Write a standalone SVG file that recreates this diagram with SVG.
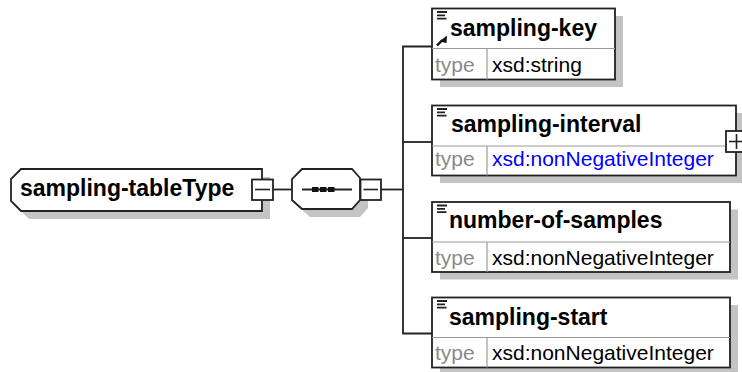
<svg xmlns="http://www.w3.org/2000/svg" width="742" height="372" viewBox="0 0 742 372">
<style>
.shadow{fill:#c4c4c4;stroke:none}
.box{fill:#fff;stroke:#222;stroke-width:1.8}
.sep{stroke:#9a9a9a;stroke-width:1.2;fill:none}
.conn{stroke:#222;stroke-width:1.8;fill:none}
.name{font-family:"Liberation Sans",Arial,sans-serif;font-weight:bold;font-size:23px;fill:#000}
.lbl{font-family:"Liberation Sans",Arial,sans-serif;font-size:21px;fill:#8a8a8a}
.typ{font-family:"Liberation Sans",Arial,sans-serif;font-size:21px;fill:#000}
.link{fill:#0000ff}
.ico{stroke:#222;stroke-width:1.8;fill:none}
.pm{fill:#fff;stroke:#222;stroke-width:1.8}
.pml{stroke:#222;stroke-width:1.6;fill:none}
</style>
<rect width="742" height="372" fill="#fff"/>
<g id="connectors">
<line class="conn" x1="273" y1="189.5" x2="292" y2="189.5"/>
<line class="conn" x1="381" y1="189.5" x2="403" y2="189.5"/>
<polyline class="conn" points="432,46.5 403,46.5 403,333.5 432,333.5"/>
<line class="conn" x1="403" y1="142" x2="432" y2="142"/>
<line class="conn" x1="403" y1="238" x2="432" y2="238"/>
</g>
<g id="node-sampling-tableType">
<polygon class="shadow" points="29,177 270,177 270,219 29,219 19,209 19,187"/>
<polygon class="box" points="21,169 262,169 262,211 21,211 11,201 11,179"/>
<text class="name" x="20" y="196">sampling-tableType</text>
<rect class="pm" x="252" y="179.5" width="21" height="20.5"/>
<line class="pml" x1="255" y1="189.5" x2="270" y2="189.5"/>
</g>
<g id="node-sequence">
<polygon class="shadow" points="310,177 360,177 368,187 368,208 360,217 310,217 300,208 300,187"/>
<polygon class="box" points="302,169 352,169 360,178 360,200 352,209 302,209 292,200 292,179"/>
<line class="conn" x1="302" y1="189.5" x2="352" y2="189.5"/>
<rect x="312" y="187" width="6.5" height="5" fill="#111"/>
<rect x="320" y="187" width="6.5" height="5" fill="#111"/>
<rect x="328" y="187" width="6.5" height="5" fill="#111"/>
<rect class="pm" x="360.5" y="179.5" width="20.5" height="20.5"/>
<line class="pml" x1="363.5" y1="189.5" x2="378" y2="189.5"/>
</g>
<g id="node-sampling-key">
<rect class="shadow" x="440" y="16" width="183" height="71"/>
<rect class="box" x="432" y="8.5" width="183" height="71"/>
<line class="sep" x1="432" y1="48.5" x2="615" y2="48.5"/>
<line class="sep" x1="487" y1="48.5" x2="487" y2="79.5"/>
<path class="ico" d="M437,12h10M437,15.3h8M437,18.6h9.5"/>
<line x1="437" y1="45.5" x2="442.5" y2="40" stroke="#111" stroke-width="2.4"/>
<polygon points="447,35.5 446.5,43 439.5,41.5" fill="#111"/>
<text class="name" x="450" y="36">sampling-key</text>
<text class="lbl" x="435" y="72">type</text>
<text class="typ" x="492" y="72">xsd:string</text>
</g>
<g id="node-sampling-interval">
<rect class="shadow" x="440" y="113" width="304" height="70"/>
<rect class="box" x="432" y="105.5" width="304" height="70"/>
<line class="sep" x1="432" y1="146" x2="736" y2="146"/>
<line class="sep" x1="487" y1="146" x2="487" y2="175.5"/>
<path class="ico" d="M437,109h10M437,112.3h8M437,115.6h9.5"/>
<text class="name" x="451" y="132">sampling-interval</text>
<text class="lbl" x="435" y="166">type</text>
<text class="typ link" x="492" y="166">xsd:nonNegativeInteger</text>
<rect class="pm" x="726" y="131" width="21" height="21"/>
<line class="pml" x1="729" y1="141.5" x2="744" y2="141.5"/>
<line class="pml" x1="736.5" y1="134" x2="736.5" y2="149"/>
</g>
<g id="node-number-of-samples">
<rect class="shadow" x="440" y="209.5" width="298" height="70"/>
<rect class="box" x="432" y="202" width="298" height="70"/>
<line class="sep" x1="432" y1="242" x2="730" y2="242"/>
<line class="sep" x1="487" y1="242" x2="487" y2="272"/>
<path class="ico" d="M437,205.5h10M437,208.8h8M437,212.1h9.5"/>
<text class="name" x="449" y="228">number-of-samples</text>
<text class="lbl" x="435" y="265">type</text>
<text class="typ" x="492" y="265">xsd:nonNegativeInteger</text>
</g>
<g id="node-sampling-start">
<rect class="shadow" x="440" y="305" width="298" height="70"/>
<rect class="box" x="432" y="297.5" width="298" height="70"/>
<line class="sep" x1="432" y1="337.5" x2="730" y2="337.5"/>
<line class="sep" x1="487" y1="337.5" x2="487" y2="367.5"/>
<path class="ico" d="M437,301h10M437,304.3h8M437,307.6h9.5"/>
<text class="name" x="449" y="325">sampling-start</text>
<text class="lbl" x="435" y="360">type</text>
<text class="typ" x="492" y="360">xsd:nonNegativeInteger</text>
</g>
</svg>
